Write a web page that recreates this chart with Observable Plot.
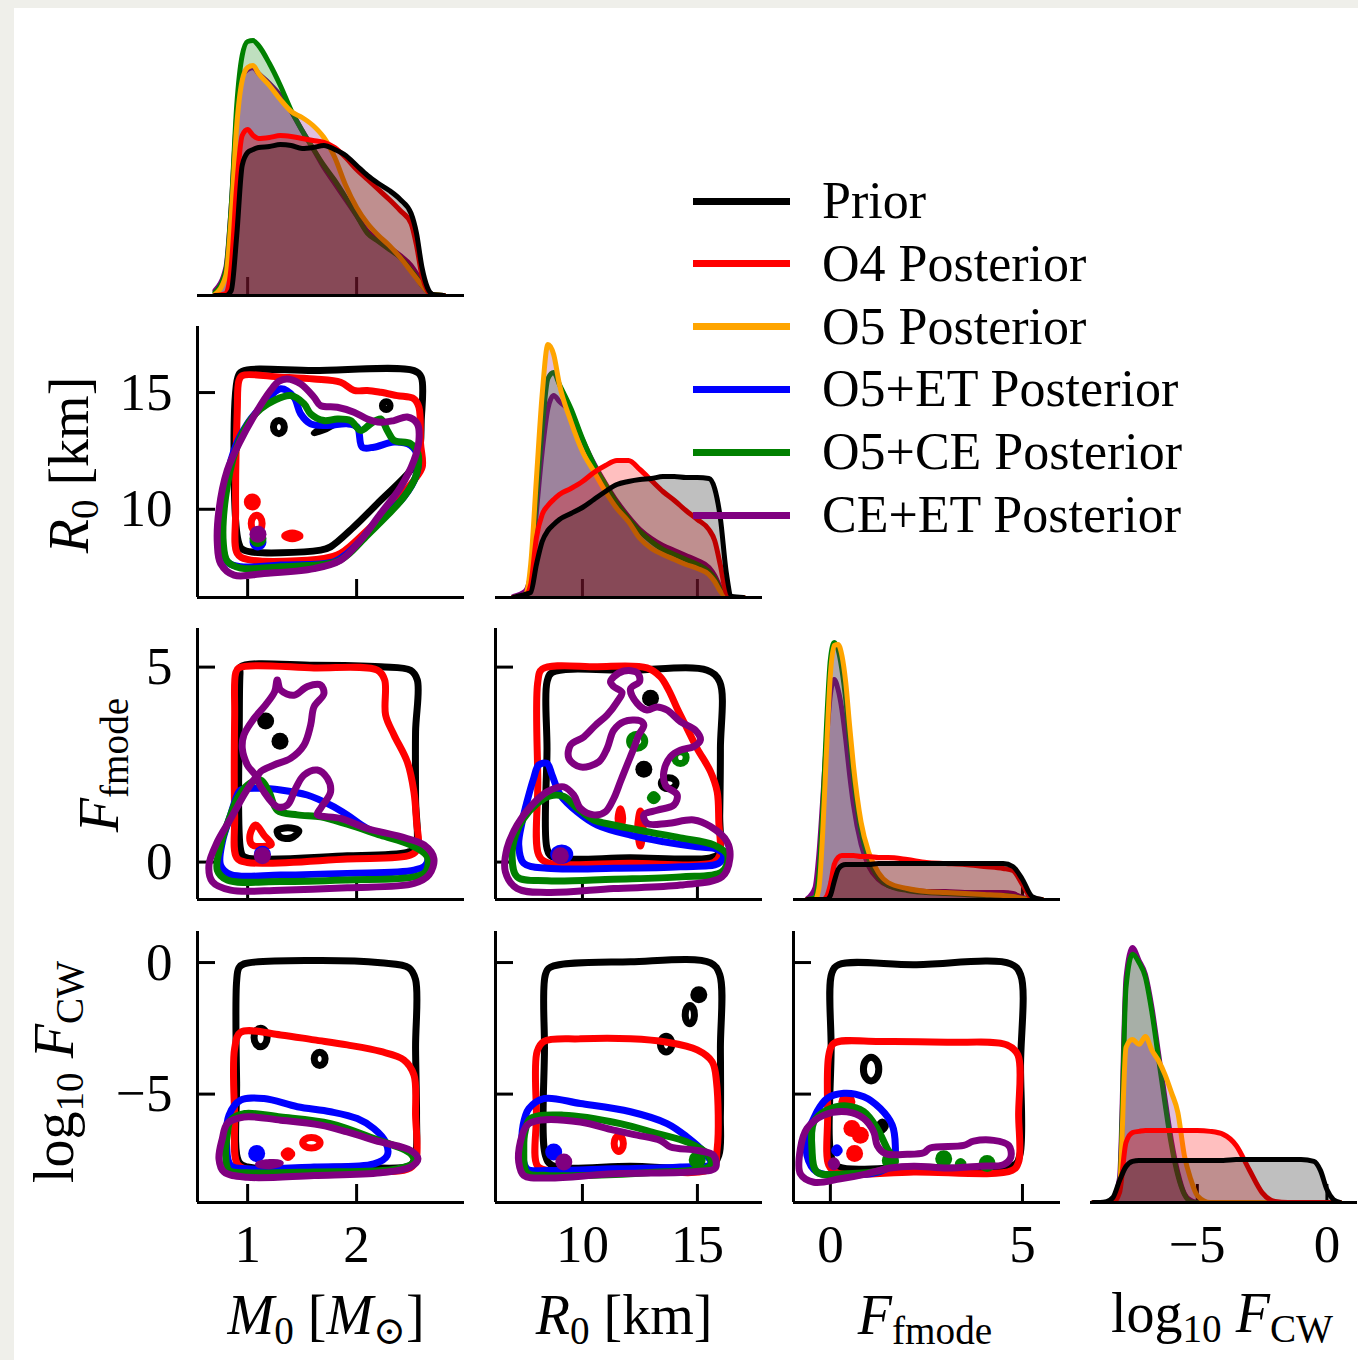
<!DOCTYPE html>
<html>
<head>
<meta charset="utf-8">
<script src="https://cdn.jsdelivr.net/npm/d3@7"></script>
<script src="https://cdn.jsdelivr.net/npm/@observablehq/plot@0.6"></script>
<style>
  html, body { margin: 0; padding: 0; width: 1358px; height: 1360px; overflow: hidden; background: #efefea; }
  #sheet { position: absolute; left: 14px; top: 8px; width: 1344px; height: 1352px; background: #ffffff; }
  .panel { position: absolute; }
  .lab { position: absolute; font-family: "Liberation Serif", "DejaVu Serif", serif; font-size: 56px; line-height: 1; white-space: nowrap; color: #000; padding: 4px 0 10px 0; }
  .lab sub { font-size: 0.7em; vertical-align: -0.25em; line-height: 0; }
  .leg-line { position: absolute; height: 7px; width: 97px; }
  .leg-text { position: absolute; font-family: "Liberation Serif", "DejaVu Serif", serif; font-size: 52px; line-height: 1; white-space: nowrap; transform: translateY(-50%); }
</style>
</head>
<body>
<div id="sheet"></div>
<script>
// ---------------- series ----------------
const seriesNames = ["Prior", "O4 Posterior", "O5 Posterior", "O5+ET Posterior", "O5+CE Posterior", "CE+ET Posterior"];
const seriesColors = ["black", "red", "orange", "blue", "green", "purple"];
// shading used under each marginal density curve
const seriesFills = ["black", "red", "purple", "blue", "green", "purple"];

// ---------------- 1D marginal densities ----------------
const m0Grid = [0.70,0.80,0.85,0.90,0.95,1.00,1.05,1.10,1.20,1.30,1.40,1.50,1.60,1.70,1.80,1.90,2.00,2.10,2.20,2.30,2.40,2.50,2.55,2.60,2.65,2.70,2.80];
const m0Prior = [0,0,0.025,0.30,0.65,0.715,0.73,0.74,0.745,0.755,0.75,0.735,0.74,0.75,0.73,0.70,0.65,0.60,0.56,0.525,0.48,0.41,0.31,0.14,0.04,0.005,0];
const m0O4 = [0,0.01,0.15,0.55,0.80,0.83,0.80,0.785,0.79,0.80,0.795,0.785,0.775,0.765,0.74,0.69,0.63,0.58,0.53,0.48,0.425,0.36,0.25,0.10,0.025,0,0];
const m0O5 = [0.005,0.10,0.40,0.85,1.075,1.14,1.15,1.11,1.05,0.98,0.92,0.89,0.85,0.79,0.69,0.55,0.44,0.36,0.30,0.25,0.19,0.12,0.085,0.05,0.02,0.005,0];
const m0O5CE = [0.015,0.125,0.45,0.95,1.20,1.27,1.275,1.25,1.16,1.05,0.925,0.825,0.735,0.65,0.575,0.49,0.40,0.31,0.27,0.23,0.19,0.125,0.09,0.05,0.02,0.005,0];
const m0CEET = [0.025,0.14,0.45,0.90,1.10,1.13,1.14,1.11,1.06,1.00,0.92,0.825,0.735,0.64,0.56,0.48,0.40,0.32,0.28,0.24,0.20,0.15,0.11,0.065,0.025,0.005,0];

const r0Grid = [7.0,7.5,7.75,8.0,8.25,8.5,8.75,9.0,9.5,10,10.5,11,11.5,12,12.5,13,13.5,14,14.5,15,15.5,15.75,16,16.25,16.5,17];
const r0Prior = [0,0.003,0.005,0.033,0.056,0.067,0.073,0.078,0.084,0.090,0.098,0.106,0.113,0.116,0.118,0.119,0.121,0.121,0.120,0.120,0.119,0.109,0.079,0.026,0.001,0];
const r0O4 = [0,0.001,0.013,0.060,0.083,0.092,0.098,0.103,0.109,0.116,0.125,0.132,0.137,0.137,0.128,0.117,0.106,0.097,0.087,0.078,0.068,0.057,0.032,0.005,0,0];
const r0O5 = [0,0.003,0.033,0.119,0.203,0.253,0.243,0.213,0.176,0.146,0.126,0.106,0.089,0.076,0.059,0.049,0.043,0.038,0.033,0.029,0.023,0.016,0.006,0.001,0,0];
const r0O5CE = [0,0.001,0.023,0.099,0.169,0.219,0.225,0.213,0.189,0.159,0.133,0.113,0.094,0.079,0.066,0.056,0.048,0.043,0.038,0.033,0.026,0.019,0.008,0.002,0,0];
const r0CEET = [0.001,0.006,0.023,0.086,0.146,0.189,0.202,0.196,0.185,0.158,0.134,0.114,0.096,0.081,0.068,0.059,0.052,0.047,0.042,0.037,0.030,0.022,0.010,0.002,0,0];

const fmGrid = [-0.6,-0.4,-0.3,-0.2,-0.1,0,0.1,0.2,0.3,0.4,0.5,0.6,0.8,1.0,1.25,1.5,2,2.5,3,3.5,4,4.5,4.75,5.0,5.25,5.5];
const fmPrior = [0,0,0,0,0,0.02,0.09,0.15,0.17,0.175,0.175,0.175,0.175,0.175,0.18,0.18,0.18,0.18,0.18,0.18,0.18,0.18,0.165,0.10,0.015,0];
const fmO4 = [0,0,0,0,0.015,0.075,0.175,0.21,0.22,0.22,0.22,0.22,0.215,0.215,0.21,0.21,0.20,0.185,0.18,0.175,0.165,0.155,0.145,0.075,0.005,0];
const fmO5 = [0,0,0.055,0.335,0.75,1.125,1.27,1.275,1.22,1.085,0.87,0.67,0.385,0.235,0.135,0.085,0.055,0.04,0.035,0.03,0.025,0.02,0.015,0.005,0,0];
const fmO5CE = [0,0.01,0.125,0.45,0.875,1.20,1.285,1.25,1.15,1.00,0.80,0.61,0.34,0.20,0.11,0.07,0.045,0.035,0.03,0.025,0.02,0.02,0.015,0.005,0,0];
const fmCEET = [0.005,0.06,0.225,0.50,0.80,1.025,1.10,1.05,0.95,0.80,0.625,0.475,0.275,0.165,0.10,0.07,0.05,0.04,0.04,0.035,0.035,0.035,0.03,0.01,0,0];

const cwGrid = [-9.0,-8.75,-8.5,-8.25,-8.0,-7.75,-7.5,-7.25,-7.0,-6.75,-6.5,-6.25,-6.0,-5.75,-5.5,-5.25,-5.0,-4.5,-4.0,-3.5,-3.0,-2.5,-2.0,-1.5,-1.0,-0.5,-0.25,0,0.25,0.5];
const cwPrior = [0,0,0.003,0.017,0.073,0.12,0.137,0.14,0.14,0.14,0.14,0.14,0.14,0.14,0.14,0.14,0.14,0.14,0.14,0.143,0.143,0.143,0.143,0.143,0.143,0.137,0.107,0.043,0.01,0];
const cwO4 = [0,0,0,0,0.033,0.20,0.233,0.237,0.24,0.24,0.24,0.24,0.24,0.24,0.24,0.24,0.24,0.237,0.227,0.19,0.11,0.033,0.003,0,0,0,0,0,0,0];
const cwO5 = [0,0,0,0.007,0.05,0.517,0.543,0.527,0.553,0.507,0.473,0.427,0.367,0.30,0.157,0.077,0.023,0,0,0,0,0,0,0,0,0,0,0,0,0];
const cwO5CE = [0,0,0,0.007,0.05,0.717,0.827,0.80,0.75,0.633,0.483,0.333,0.193,0.09,0.027,0.003,0,0,0,0,0,0,0,0,0,0,0,0,0,0];
const cwCEET = [0,0,0,0.01,0.083,0.75,0.85,0.807,0.76,0.65,0.50,0.35,0.207,0.10,0.03,0.007,0,0,0,0,0,0,0,0,0,0,0,0,0,0];

// ---------------- 2D credible contours: [series, [[x, y], ...]] ----------------
const ringsM0R0 = [
  ["Prior", [[0.951,15.91],[1.609,15.94],[2.526,15.94],[2.593,15.66],[2.593,13.80],[2.572,12.38],[2.495,11.67],[2.22,10.38],[1.976,9.25],[1.761,8.39],[1.67,8.25],[0.966,8.25],[0.92,8.53],[0.911,15.66]]],
  ["Prior", [[1.337,13.52],[1.322,13.72],[1.287,13.80],[1.252,13.72],[1.237,13.52],[1.252,13.32],[1.287,13.24],[1.322,13.32]]],
  ["Prior", [[1.61,13.28],[1.72,13.55],[1.81,13.70],[1.72,13.45]]],
  ["Prior", [[2.307,14.44],[2.297,14.56],[2.272,14.61],[2.247,14.56],[2.237,14.44],[2.247,14.32],[2.272,14.27],[2.297,14.32]]],
  ["O4 Posterior", [[0.951,15.73],[1.303,15.66],[1.609,15.58],[1.853,15.44],[1.976,15.09],[2.098,15.09],[2.22,15.01],[2.373,14.87],[2.526,14.73],[2.572,14.37],[2.587,12.81],[2.602,11.81],[2.526,11.24],[2.343,10.24],[2.098,9.10],[1.853,8.11],[1.70,7.89],[0.997,7.85],[0.905,8.11],[0.89,9.96],[0.905,14.23],[0.92,15.51]]],
  ["O4 Posterior", [[1.133,9.39],[1.118,9.64],[1.083,9.74],[1.048,9.64],[1.033,9.39],[1.048,9.14],[1.083,9.04],[1.118,9.14]]],
  ["O4 Posterior", [[1.41,8.98],[1.48,8.86],[1.41,8.74],[1.34,8.86]]],
  ["O5+ET Posterior", [[1.303,15.16],[1.425,14.80],[1.486,14.09],[1.578,13.66],[1.731,13.59],[1.914,13.66],[2.006,13.52],[2.052,12.66],[2.159,12.66],[2.343,12.88],[2.495,12.74],[2.563,12.24],[2.541,11.38],[2.434,10.53],[2.281,9.81],[2.098,8.96],[1.914,8.11],[1.792,7.75],[1.303,7.61],[0.936,7.54],[0.813,7.75],[0.768,8.53],[0.783,10.53],[0.875,12.52],[0.997,13.66],[1.15,14.52]]],
  ["O5+CE Posterior", [[1.242,14.66],[1.394,14.87],[1.517,14.52],[1.578,14.09],[1.70,13.80],[1.823,13.87],[1.945,13.80],[2.037,13.38],[2.128,13.66],[2.22,13.87],[2.281,13.38],[2.343,12.95],[2.495,12.81],[2.563,12.38],[2.541,11.38],[2.434,10.53],[2.281,9.74],[2.098,8.89],[1.914,8.03],[1.792,7.71],[1.303,7.54],[0.936,7.48],[0.813,7.78],[0.777,8.53],[0.798,10.53],[0.89,12.52],[1.012,13.73],[1.12,14.30]]],
  ["CE+ET Posterior", [[1.364,15.58],[1.486,15.37],[1.609,14.80],[1.67,14.44],[1.823,14.37],[1.976,14.16],[2.098,13.87],[2.22,13.73],[2.343,13.80],[2.465,13.95],[2.557,13.66],[2.572,12.95],[2.526,12.09],[2.404,10.95],[2.22,9.81],[2.037,8.68],[1.853,7.82],[1.609,7.46],[1.15,7.25],[0.875,7.18],[0.752,7.68],[0.722,8.53],[0.737,9.96],[0.813,11.67],[0.936,12.95],[1.089,14.23],[1.211,15.09],[1.287,15.48]]]
];
const spotsM0R0 = [["O4 Posterior",1.043,10.31],["O5+ET Posterior",1.095,8.60],["O5+CE Posterior",1.095,8.75],["CE+ET Posterior",1.095,8.93]];

const ringsM0FM = [
  ["Prior", [[0.936,5.01],[1.609,5.05],[2.22,5.01],[2.495,4.92],[2.557,4.67],[2.541,3.34],[2.541,1.63],[2.541,0.35],[2.465,0.25],[1.914,0.16],[0.966,0.14],[0.936,0.31],[0.924,3.77],[0.93,4.84]]],
  ["Prior", [[1.27,0.80],[1.37,0.88],[1.47,0.80],[1.40,0.62],[1.30,0.64]]],
  ["O4 Posterior", [[0.92,4.98],[1.609,4.98],[2.19,4.92],[2.257,4.67],[2.266,3.77],[2.343,3.26],[2.465,2.57],[2.526,1.80],[2.55,1.03],[2.563,0.35],[2.495,0.18],[1.914,0.08],[0.997,-0.01],[0.90,0.11],[0.881,1.21],[0.881,3.77],[0.89,4.84]]],
  ["O4 Posterior", [[1.073,0.95],[1.15,0.69],[1.217,0.45],[1.043,0.44],[1.021,0.69]]],
  ["O5+ET Posterior", [[0.936,1.85],[1.119,1.89],[1.303,1.85],[1.547,1.72],[1.761,1.46],[1.914,1.21],[2.098,0.86],[2.343,0.61],[2.526,0.44],[2.648,0.18],[2.633,-0.08],[2.526,-0.21],[1.914,-0.29],[1.303,-0.33],[0.844,-0.32],[0.752,-0.08],[0.768,0.52],[0.844,1.21],[0.905,1.72]]],
  ["O5+CE Posterior", [[0.997,1.97],[1.119,2.10],[1.196,1.80],[1.272,1.33],[1.456,1.21],[1.67,1.16],[1.914,0.97],[2.22,0.69],[2.495,0.44],[2.648,0.14],[2.633,-0.25],[2.526,-0.38],[1.914,-0.46],[1.303,-0.50],[0.813,-0.46],[0.722,-0.21],[0.752,0.44],[0.844,1.21],[0.905,1.63]]],
  ["CE+ET Posterior", [[1.073,2.19],[0.997,2.49],[0.951,2.91],[0.966,3.26],[1.058,3.68],[1.165,4.03],[1.248,4.37],[1.272,4.67],[1.303,4.41],[1.425,4.28],[1.547,4.50],[1.67,4.54],[1.70,4.32],[1.609,3.98],[1.578,3.51],[1.517,3.00],[1.394,2.66],[1.242,2.49],[1.119,2.32],[1.089,2.15],[1.15,1.80],[1.272,1.42],[1.364,1.46],[1.44,1.89],[1.517,2.23],[1.639,2.36],[1.731,2.15],[1.761,1.80],[1.67,1.38],[1.639,1.22],[1.853,1.12],[2.098,0.86],[2.404,0.65],[2.618,0.44],[2.709,0.09],[2.664,-0.33],[2.526,-0.55],[1.914,-0.66],[1.303,-0.72],[0.844,-0.72],[0.676,-0.50],[0.645,-0.08],[0.722,0.52],[0.844,1.11],[0.966,1.72],[1.043,2.06]]]
];
const spotsM0FM = [["Prior",1.165,3.62],["Prior",1.297,3.10],["O5+ET Posterior",1.135,0.20],["CE+ET Posterior",1.135,0.16]];

const ringsR0FM = [
  ["Prior", [[8.68,4.86],[12.09,4.92],[15.42,4.92],[15.97,4.62],[16.0,2.91],[15.97,1.21],[15.93,0.22],[15.57,0.11],[12.09,0.11],[8.68,0.14],[8.46,0.35],[8.46,2.91],[8.46,4.62]]],
  ["Prior", [[14.07,2.02],[13.98,2.12],[13.75,2.16],[13.52,2.12],[13.43,2.02],[13.52,1.92],[13.75,1.88],[13.98,1.92]]],
  ["O4 Posterior", [[8.25,4.95],[10.64,5.01],[12.81,4.98],[13.39,4.75],[13.75,4.41],[14.12,3.94],[14.55,3.43],[14.99,2.91],[15.57,2.32],[15.86,1.80],[15.93,1.03],[15.97,0.18],[15.71,-0.01],[12.09,-0.03],[8.46,-0.01],[8.10,0.18],[8.06,2.06],[8.06,4.62]]],
  ["O4 Posterior", [[11.65,1.37],[11.75,1.12],[11.65,0.87],[11.55,1.12]]],
  ["O4 Posterior", [[12.52,1.31],[12.64,0.86],[12.52,0.41],[12.40,0.86]]],
  ["O5+ET Posterior", [[7.88,2.15],[8.10,2.49],[8.46,2.53],[8.68,2.23],[9.04,1.72],[9.77,1.29],[10.64,0.95],[12.09,0.69],[13.54,0.52],[14.99,0.39],[15.86,0.33],[16.14,0.18],[15.93,-0.03],[14.26,-0.12],[11.36,-0.16],[8.46,-0.16],[7.45,-0.03],[7.23,0.44],[7.38,1.03],[7.59,1.55]]],
  ["O5+ET Posterior", [[9.45,0.20],[9.35,0.31],[9.10,0.36],[8.85,0.31],[8.75,0.20],[8.85,0.09],[9.10,0.04],[9.35,0.09]]],
  ["O5+CE Posterior", [[7.45,1.12],[8.03,1.50],[8.61,1.70],[9.19,1.68],[9.77,1.38],[10.49,1.08],[11.36,0.95],[12.81,0.78],[14.26,0.62],[15.71,0.44],[16.32,0.16],[16.07,-0.25],[14.26,-0.38],[11.36,-0.44],[8.46,-0.48],[7.16,-0.38],[6.94,0.14],[7.09,0.69]]],
  ["O5+CE Posterior", [[12.71,3.10],[12.61,3.23],[12.38,3.28],[12.15,3.23],[12.05,3.10],[12.15,2.97],[12.38,2.92],[12.61,2.97]]],
  ["O5+CE Posterior", [[14.51,2.68],[14.44,2.79],[14.26,2.83],[14.08,2.79],[14.01,2.68],[14.08,2.57],[14.26,2.53],[14.44,2.57]]],
  ["O5+CE Posterior", [[13.10,1.73],[13.25,1.65],[13.10,1.57],[12.95,1.65]]],
  ["CE+ET Posterior", [[11.36,4.75],[11.80,4.90],[12.38,4.86],[12.49,4.64],[12.09,4.44],[12.38,4.07],[12.81,3.90],[13.25,3.98],[13.68,3.90],[14.26,3.60],[14.91,3.38],[15.13,3.13],[14.84,2.96],[14.26,2.87],[13.83,2.70],[13.54,2.32],[13.61,1.97],[14.12,1.72],[13.97,1.46],[13.25,1.33],[12.67,1.21],[12.81,0.99],[13.68,0.99],[14.84,1.08],[15.57,0.91],[16.29,0.52],[16.41,0.09],[16.07,-0.38],[14.26,-0.59],[11.36,-0.68],[8.46,-0.78],[7.16,-0.68],[6.65,-0.25],[6.72,0.35],[7.16,0.95],[7.74,1.42],[8.46,1.80],[9.19,1.93],[9.62,1.72],[9.91,1.38],[10.49,1.21],[11.0,1.29],[11.36,1.63],[11.65,2.06],[11.94,2.49],[12.23,2.91],[12.45,3.26],[12.67,3.51],[12.52,3.62],[11.80,3.60],[11.36,3.38],[11.07,2.91],[10.71,2.57],[9.91,2.44],[9.41,2.66],[9.48,3.00],[10.06,3.21],[10.57,3.51],[11.07,3.77],[11.51,4.11],[11.72,4.35],[11.36,4.50],[11.22,4.62]]]
];
const spotsR0FM = [["Prior",12.96,4.20],["Prior",12.67,2.38],["CE+ET Posterior",9.04,0.16]];

const ringsM0CW = [
  ["Prior", [[0.966,-0.05],[1.609,0.08],[2.22,-0.01],[2.48,-0.20],[2.541,-0.65],[2.541,-3.26],[2.55,-5.80],[2.541,-7.33],[2.495,-7.71],[1.914,-7.77],[0.997,-7.77],[0.92,-7.58],[0.899,-4.53],[0.899,-0.71],[0.92,-0.20]]],
  ["Prior", [[1.179,-2.85],[1.161,-2.60],[1.119,-2.50],[1.077,-2.60],[1.059,-2.85],[1.077,-3.10],[1.119,-3.20],[1.161,-3.10]]],
  ["Prior", [[1.711,-3.66],[1.696,-3.48],[1.661,-3.41],[1.626,-3.48],[1.611,-3.66],[1.626,-3.84],[1.661,-3.91],[1.696,-3.84]]],
  ["O4 Posterior", [[0.936,-2.65],[1.303,-2.75],[1.609,-2.94],[1.914,-3.13],[2.22,-3.38],[2.434,-3.70],[2.526,-4.27],[2.541,-5.80],[2.541,-7.58],[2.465,-7.86],[1.609,-7.86],[0.997,-7.86],[0.905,-7.65],[0.881,-5.80],[0.881,-3.26]]],
  ["O4 Posterior", [[1.37,-7.15],[1.405,-7.28],[1.37,-7.41],[1.335,-7.28]]],
  ["O4 Posterior", [[1.665,-6.85],[1.642,-6.71],[1.585,-6.65],[1.528,-6.71],[1.505,-6.85],[1.528,-6.99],[1.585,-7.05],[1.642,-6.99]]],
  ["O5+ET Posterior", [[0.829,-5.80],[0.936,-5.23],[1.15,-5.17],[1.456,-5.48],[1.761,-5.67],[2.006,-5.93],[2.159,-6.31],[2.266,-6.82],[2.281,-7.33],[2.159,-7.65],[1.609,-7.77],[0.997,-7.84],[0.844,-7.71],[0.807,-6.95]]],
  ["O5+CE Posterior", [[0.844,-5.99],[0.966,-5.74],[1.303,-5.87],[1.761,-6.12],[2.159,-6.69],[2.495,-7.26],[2.526,-7.58],[2.373,-7.84],[1.609,-7.96],[0.997,-7.99],[0.829,-7.90],[0.798,-7.33],[0.813,-6.56]]],
  ["CE+ET Posterior", [[0.813,-6.12],[0.966,-5.87],[1.303,-5.99],[1.67,-6.18],[1.914,-6.44],[2.22,-6.82],[2.495,-7.14],[2.563,-7.46],[2.495,-7.77],[2.22,-7.99],[1.609,-8.09],[0.997,-8.16],[0.783,-7.96],[0.737,-7.46],[0.768,-6.69]]],
  ["CE+ET Posterior", [[1.10,-7.67],[1.20,-7.60],[1.30,-7.62],[1.20,-7.72]]]
];
const spotsM0CW = [["O5+ET Posterior",1.083,-7.26]];

const ringsR0CW = [
  ["Prior", [[8.61,-0.18],[12.09,0.03],[15.57,-0.01],[15.97,-0.46],[16.0,-3.26],[16.0,-5.80],[15.93,-7.33],[15.57,-7.74],[12.09,-7.74],[8.68,-7.71],[8.39,-7.33],[8.35,-3.26],[8.39,-0.46]]],
  ["Prior", [[14.87,-1.98],[14.81,-1.73],[14.67,-1.63],[14.53,-1.73],[14.47,-1.98],[14.53,-2.23],[14.67,-2.33],[14.81,-2.23]]],
  ["Prior", [[13.89,-3.10],[13.82,-2.89],[13.64,-2.80],[13.46,-2.89],[13.39,-3.10],[13.46,-3.31],[13.64,-3.40],[13.82,-3.31]]],
  ["O4 Posterior", [[8.32,-3.00],[9.91,-2.90],[12.09,-2.90],[13.68,-3.03],[14.99,-3.32],[15.64,-3.77],[15.83,-4.53],[15.86,-7.07],[15.64,-7.81],[12.09,-7.90],[8.46,-7.90],[8.03,-7.71],[8.0,-5.80],[8.03,-3.38]]],
  ["O4 Posterior", [[11.78,-6.88],[11.72,-6.67],[11.58,-6.58],[11.44,-6.67],[11.38,-6.88],[11.44,-7.09],[11.58,-7.18],[11.72,-7.09]]],
  ["O5+ET Posterior", [[7.67,-5.55],[8.32,-5.17],[9.91,-5.36],[12.09,-5.67],[13.68,-6.12],[14.55,-6.63],[15.28,-7.20],[15.57,-7.65],[14.26,-7.77],[11.36,-7.84],[8.46,-7.90],[7.59,-7.84],[7.38,-7.07],[7.42,-6.18]]],
  ["O5+CE Posterior", [[7.74,-5.93],[9.19,-5.80],[11.65,-6.12],[13.25,-6.50],[14.55,-6.82],[15.42,-7.26],[15.57,-7.71],[12.81,-7.99],[8.46,-8.09],[7.59,-7.99],[7.45,-7.07],[7.52,-6.37]]],
  ["CE+ET Posterior", [[7.59,-6.18],[8.17,-5.99],[9.91,-6.06],[11.36,-6.37],[12.38,-6.56],[13.39,-6.76],[13.83,-7.01],[14.99,-7.14],[15.71,-7.33],[15.78,-7.81],[14.99,-7.94],[11.36,-8.03],[8.46,-8.19],[7.45,-8.09],[7.23,-7.58],[7.30,-6.82]]]
];
const spotsR0CW = [["Prior",15.06,-1.22],["O5+ET Posterior",8.75,-7.20],["O5+CE Posterior",14.99,-7.50],["CE+ET Posterior",9.19,-7.58]];

const ringsFMCW = [
  ["Prior", [[0.22,-0.08],[2.17,-0.08],[4.69,-0.05],[4.95,-0.46],[4.95,-3.89],[4.93,-7.33],[4.77,-7.71],[2.17,-7.77],[0.22,-7.77],[0.04,-7.46],[0.02,-3.26],[0.04,-0.39]]],
  ["Prior", [[1.26,-4.05],[1.20,-3.73],[1.06,-3.60],[0.92,-3.73],[0.86,-4.05],[0.92,-4.37],[1.06,-4.50],[1.20,-4.37]]],
  ["Prior", [[1.35,-6.06],[1.43,-6.21],[1.35,-6.36],[1.27,-6.21]]],
  ["O4 Posterior", [[0.09,-3.07],[1.30,-3.00],[3.04,-3.03],[4.60,-3.13],[4.88,-3.51],[4.90,-5.80],[4.90,-7.58],[4.73,-7.90],[2.17,-7.96],[0.17,-7.99],[-0.04,-7.71],[-0.07,-5.80],[-0.04,-3.51]]],
  ["O5+ET Posterior", [[-0.35,-5.67],[-0.09,-5.17],[0.35,-4.97],[0.87,-5.10],[1.30,-5.55],[1.61,-6.18],[1.69,-6.95],[1.65,-7.58],[1.30,-7.94],[0.43,-8.07],[-0.35,-7.96],[-0.61,-7.33],[-0.56,-6.44]]],
  ["O5+ET Posterior", [[0.17,-7.04],[0.23,-7.14],[0.17,-7.24],[0.11,-7.14]]],
  ["O5+CE Posterior", [[-0.43,-6.06],[-0.09,-5.61],[0.43,-5.45],[0.87,-5.67],[1.22,-6.31],[1.48,-7.07],[1.69,-7.58],[1.30,-7.90],[0.43,-8.03],[-0.35,-7.96],[-0.48,-7.07]]],
  ["O5+CE Posterior", [[3.39,-7.56],[3.45,-7.64],[3.39,-7.72],[3.33,-7.64]]],
  ["CE+ET Posterior", [[-0.78,-7.07],[-0.61,-6.31],[-0.17,-5.80],[0.43,-5.67],[0.87,-5.93],[1.13,-6.44],[1.22,-6.95],[1.43,-7.26],[2.0,-7.29],[2.43,-7.23],[2.60,-7.05],[3.47,-6.95],[3.73,-6.79],[4.25,-6.76],[4.64,-6.95],[4.70,-7.39],[4.51,-7.68],[3.91,-7.74],[3.04,-7.81],[2.17,-7.74],[1.56,-7.81],[0.95,-8.03],[0.26,-8.22],[-0.43,-8.35],[-0.78,-8.03]]],
  ["CE+ET Posterior", [[0.09,-7.53],[0.16,-7.65],[0.09,-7.77],[0.02,-7.65]]]
];
const spotsFMCW = [["O4 Posterior",0.43,-5.29],["O4 Posterior",0.56,-6.31],["O4 Posterior",0.78,-6.56],["O4 Posterior",0.63,-7.26],["O5+CE Posterior",1.56,-7.52],["O5+CE Posterior",2.95,-7.46],["O5+CE Posterior",4.08,-7.64]];

// ---------------- axes ----------------
const m0Domain = [0.54, 2.99], r0Domain = [6.22, 17.83], fmDomain = [-0.96, 5.99], cwDomain = [-9.12, 1.18];
const m0Ticks = [1, 2], r0Ticks = [10, 15], fmTicks = [0, 5], cwTicks = [-5, 0];

// ---------------- drawing ----------------
const FONT = '"Liberation Serif", "DejaVu Serif", serif';
const colorOf = Object.fromEntries(seriesNames.map((n, i) => [n, seriesColors[i]]));
const fillOf = Object.fromEntries(seriesNames.map((n, i) => [n, seriesFills[i]]));
const kdeOrder = ["CE+ET Posterior", "O5+CE Posterior", "O5 Posterior", "O4 Posterior", "Prior"];
const contourOrder = ["Prior", "O4 Posterior", "O5+ET Posterior", "O5+CE Posterior", "CE+ET Posterior"];
const colLeft = [197, 495, 793, 1090];
const rowTop = [24, 326, 628, 931];
const PW = 267, PH = 271;
const fmtTick = d => d < 0 ? "\u2212" + (-d) : String(d);

function tickMarks(xTicks, yTicks, showX, showY) {
  const m = [Plot.axisX({ticks: xTicks, tickSize: 18, dy: -18, strokeWidth: 3, tickFormat: () => "", label: null})];
  if (yTicks) m.push(Plot.axisY({ticks: yTicks, tickSize: 18, dx: 18, strokeWidth: 3, tickFormat: () => "", label: null}));
  if (showX) m.push(Plot.axisX({ticks: xTicks, tickSize: 0, tickPadding: 22, tickFormat: fmtTick, label: null, fontSize: 53}));
  if (showY) m.push(Plot.axisY({ticks: yTicks, tickSize: 0, tickPadding: 25, tickFormat: fmtTick, label: null, fontSize: 53}));
  return m;
}

function place(chart, row, col, ml, mt) {
  chart.classList.add("panel");
  chart.style.left = (colLeft[col] - ml) + "px";
  chart.style.top = (rowTop[row] - mt) + "px";
  chart.style.position = "absolute";
  document.body.appendChild(chart);
}

function diagPanel(idx, grid, series, xDomain, xTicks, yMax, showX) {
  const ml = 12, mr = 12, mt = 12, mb = showX ? 90 : 12;
  const marks = [...tickMarks(xTicks, null, showX, false)];
  for (const name of kdeOrder) {
    const vals = series.find(s => s[0] === name)[1];
    const rows = grid.map((g, i) => ({x: g, d: vals[i]}));
    marks.push(Plot.areaY(rows, {x: "x", y: "d", fill: fillOf[name], fillOpacity: 0.25, curve: "monotone-x", clip: true}));
    marks.push(Plot.lineY(rows, {x: "x", y: "d", stroke: colorOf[name], strokeWidth: 5, curve: "monotone-x", clip: true}));
  }
  marks.push(Plot.ruleY([0], {strokeWidth: 3}));
  const chart = Plot.plot({
    width: PW + ml + mr, height: PH + mt + mb,
    marginLeft: ml, marginRight: mr, marginTop: mt, marginBottom: mb,
    x: {domain: xDomain}, y: {domain: [0, yMax], axis: null},
    style: {fontFamily: FONT, fontSize: "53px", overflow: "visible", background: "transparent"},
    marks
  });
  place(chart, idx, idx, ml, mt);
}

function pairPanel(row, col, rings, spots, xDomain, yDomain, xTicks, yTicks) {
  const showX = row === 3, showY = col === 0;
  const ml = showY ? 130 : 12, mr = 12, mt = 12, mb = showX ? 90 : 12;
  const marks = [...tickMarks(xTicks, yTicks, showX, showY)];
  for (const name of contourOrder) {
    for (const r of rings.filter(r => r[0] === name)) {
      marks.push(Plot.line(r[1], {x: d => d[0], y: d => d[1], stroke: colorOf[name], strokeWidth: 7, curve: "catmull-rom-closed", clip: true}));
    }
    const sp = spots.filter(s => s[0] === name);
    if (sp.length) marks.push(Plot.dot(sp, {x: d => d[1], y: d => d[2], r: 8.5, fill: colorOf[name], stroke: null, clip: true}));
  }
  marks.push(Plot.ruleX([xDomain[0]], {strokeWidth: 3}));
  marks.push(Plot.ruleY([yDomain[0]], {strokeWidth: 3}));
  const chart = Plot.plot({
    width: PW + ml + mr, height: PH + mt + mb,
    marginLeft: ml, marginRight: mr, marginTop: mt, marginBottom: mb,
    x: {domain: xDomain}, y: {domain: yDomain},
    style: {fontFamily: FONT, fontSize: "53px", overflow: "visible", background: "transparent"},
    marks
  });
  place(chart, row, col, ml, mt);
}

diagPanel(0, m0Grid, [["Prior", m0Prior], ["O4 Posterior", m0O4], ["O5 Posterior", m0O5], ["O5+CE Posterior", m0O5CE], ["CE+ET Posterior", m0CEET]], m0Domain, m0Ticks, 1.355, false);
diagPanel(1, r0Grid, [["Prior", r0Prior], ["O4 Posterior", r0O4], ["O5 Posterior", r0O5], ["O5+CE Posterior", r0O5CE], ["CE+ET Posterior", r0CEET]], r0Domain, r0Ticks, 0.271, false);
diagPanel(2, fmGrid, [["Prior", fmPrior], ["O4 Posterior", fmO4], ["O5 Posterior", fmO5], ["O5+CE Posterior", fmO5CE], ["CE+ET Posterior", fmCEET]], fmDomain, fmTicks, 1.355, false);
diagPanel(3, cwGrid, [["Prior", cwPrior], ["O4 Posterior", cwO4], ["O5 Posterior", cwO5], ["O5+CE Posterior", cwO5CE], ["CE+ET Posterior", cwCEET]], cwDomain, cwTicks, 0.903, true);

pairPanel(1, 0, ringsM0R0, spotsM0R0, m0Domain, r0Domain, m0Ticks, r0Ticks);
pairPanel(2, 0, ringsM0FM, spotsM0FM, m0Domain, fmDomain, m0Ticks, fmTicks);
pairPanel(2, 1, ringsR0FM, spotsR0FM, r0Domain, fmDomain, r0Ticks, fmTicks);
pairPanel(3, 0, ringsM0CW, spotsM0CW, m0Domain, cwDomain, m0Ticks, cwTicks);
pairPanel(3, 1, ringsR0CW, spotsR0CW, r0Domain, cwDomain, r0Ticks, cwTicks);
pairPanel(3, 2, ringsFMCW, spotsFMCW, fmDomain, cwDomain, fmTicks, cwTicks);

// ---------------- axis titles ----------------
function addLabel(html, cx, cy, rotate) {
  const el = document.createElement("div");
  el.className = "lab";
  el.innerHTML = html;
  el.style.left = cx + "px";
  el.style.top = cy + "px";
  el.style.transform = "translate(-50%,-50%)" + (rotate ? " rotate(-90deg)" : "");
  document.body.appendChild(el);
}
const labelM0 = "<i>M</i><sub>0</sub> [<i>M</i><sub>\u2299</sub>]";
const labelR0 = "<i>R</i><sub>0</sub> [km]";
const labelFM = "<i>F</i><sub>fmode</sub>";
const labelCW = "log<sub>10</sub> <i>F</i><sub>CW</sub>";
addLabel(labelM0, 326, 1318, false);
addLabel(labelR0, 624, 1318, false);
addLabel(labelFM, 925, 1318, false);
addLabel(labelCW, 1222, 1316, false);
addLabel(labelR0, 72, 465, true);
addLabel(labelFM, 102, 765, true);
addLabel(labelCW, 57, 1072, true);

// ---------------- legend ----------------
const legendTop = 201, legendStep = 62.8;
seriesNames.forEach((name, i) => {
  const y = legendTop + i * legendStep;
  const line = document.createElement("div");
  line.className = "leg-line";
  line.style.left = "693px";
  line.style.top = (y - 3.5) + "px";
  line.style.background = seriesColors[i];
  document.body.appendChild(line);
  const t = document.createElement("div");
  t.className = "leg-text";
  t.style.left = "822px";
  t.style.top = y + "px";
  t.textContent = name;
  document.body.appendChild(t);
});
</script>
</body>
</html>
